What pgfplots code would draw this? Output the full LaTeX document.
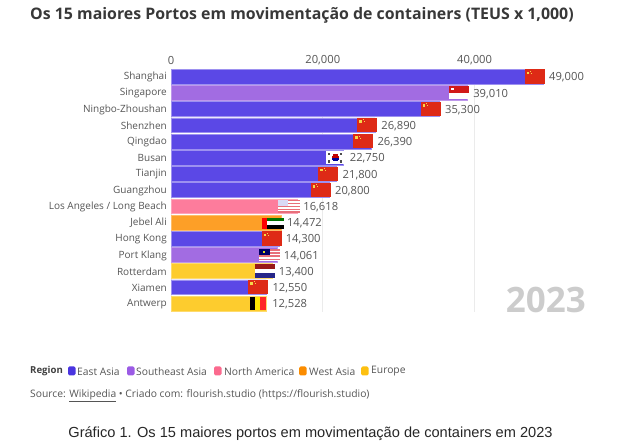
\documentclass[border=0pt]{standalone}
\usepackage{pgfplots}
\pgfplotsset{compat=1.18}
\usepackage{fontspec}
\setmainfont{Open Sans}
\newfontfamily\capfont{Liberation Sans}
\definecolor{eastc}{HTML}{5B48E6}
\definecolor{seac}{HTML}{A26CE2}
\definecolor{nac}{HTML}{FD7C9C}
\definecolor{wac}{HTML}{FD9F27}
\definecolor{euc}{HTML}{FDCC2E}
\definecolor{txt}{HTML}{555555}
\definecolor{cnred}{HTML}{DE2A16}
\definecolor{cnyel}{HTML}{F5D84A}
\definecolor{usred}{HTML}{E8707A}
% flag piece: value in thousands, x0, x1 (px from the value's end), row, y0, y1 (px from the row's centre), colour
\newcommand{\fp}[7]{%
  \pgfmathsetmacro{\xa}{#1+(#2)*0.13175}%
  \pgfmathsetmacro{\xb}{#1+(#3)*0.13175}%
  \pgfmathsetmacro{\ya}{#4+(#5)/16.2}%
  \pgfmathsetmacro{\yb}{#4+(#6)/16.2}%
  \addplot[fill=#7,draw=none,forget plot] coordinates {(\xa e3,\ya)(\xb e3,\ya)(\xb e3,\yb)(\xa e3,\yb)} -- cycle;%
}
\newcommand{\cn}[2]{%
  \fp{#1}{-18}{2}{#2}{-7.2}{7}{cnred}%
  \fp{#1}{-16}{-13.5}{#2}{-5}{-2.5}{cnyel}%
  \fp{#1}{-12.5}{-11.5}{#2}{-5.8}{-4.8}{cnyel}%
  \fp{#1}{-11.5}{-10.5}{#2}{-3.8}{-2.8}{cnyel}%
}
\begin{document}
\begin{tikzpicture}
\path (0pt,0pt) rectangle (634pt,446pt);
% title
\node[anchor=west,inner sep=0pt,font=\bfseries\fontsize{15.9}{18}\selectfont,text=black!78] at (30pt,431pt) {Os 15 maiores Portos em movimentação de containers (TEUS x 1,000)};
\begin{axis}[
  at={(171pt,377.4pt)},anchor=north west,
  scale only axis,width=455.4pt,height=243pt,
  xmin=0,xmax=60000,ymin=-0.5,ymax=14.5,y dir=reverse,
  axis line style={draw=none},
  xtick={0,20000,40000},
  xticklabel pos=top,
  xticklabel style={/pgf/number format/1000 sep={,},/pgf/number format/assume math mode=true,font=\fontsize{11.2}{13}\selectfont,text=txt,yshift=0pt},
  scaled x ticks=false,
  xmajorgrids,
  grid style={draw=black!8,line width=0.9pt},
  ytick={0,...,14},
  yticklabels={Shanghai,Singapore,Ningbo-Zhoushan,Shenzhen,Qingdao,Busan,Tianjin,Guangzhou,Los Angeles / Long Beach,Jebel Ali,Hong Kong,Port Klang,Rotterdam,Xiamen,Antwerp},
  yticklabel style={font=\fontsize{10}{12}\selectfont,text=txt,inner sep=0pt,xshift=-4pt,yshift=-0.6pt},
  major tick length=0pt,
  tick style={draw=none},
  clip=false,
  every node near coord/.append style={anchor=west,inner sep=0pt,xshift=6pt,yshift=-0.8pt,font=\fontsize{11.2}{13}\selectfont,text=txt,/pgf/number format/1000 sep={,},/pgf/number format/assume math mode=true,/pgf/number format/precision=0},
]
\pgfplotsset{bars/.style={xbar,bar width=14.7pt,bar shift=0pt,nodes near coords,point meta=x,line width=0.5pt}}
\addplot[bars,fill=eastc,draw=eastc!60!white] coordinates {(49000,0)(35300,2)(26890,3)(26390,4)(22750,5)(21800,6)(20800,7)(14300,10)(12550,13)};
\addplot[bars,fill=seac,draw=seac!70!white] coordinates {(39010,1)(14061,11)};
\addplot[bars,fill=nac,draw=nac!70!white] coordinates {(16618,8)};
\addplot[bars,fill=wac,draw=wac!70!white] coordinates {(14472,9)};
\addplot[bars,fill=euc,draw=euc!70!white] coordinates {(13400,12)(12528,14)};
% flags
\cn{49.000}{0}\cn{35.300}{2}\cn{26.890}{3}\cn{26.390}{4}\cn{21.800}{6}\cn{20.800}{7}\cn{14.300}{10}\cn{12.550}{13}
% Singapore
\fp{39.010}{-18}{2}{1}{-6.9}{-0.2}{red!80!black!90!white}
\fp{39.010}{-18}{2}{1}{-0.2}{6.4}{white}
\fp{39.010}{-16}{-13.5}{1}{-5}{-2.5}{white}
% Korea
\fp{22.750}{-18}{1}{5}{-6.3}{6.3}{white}
\fp{22.750}{-12}{-5}{5}{-2}{0}{red!75!black}
\fp{22.750}{-11}{-6}{5}{-3.4}{-2}{red!75!black}
\fp{22.750}{-12}{-5}{5}{0}{2}{blue!60!black}
\fp{22.750}{-11}{-6}{5}{2}{3.4}{blue!60!black}
\fp{22.750}{-16}{-13.5}{5}{-5}{-2.5}{black!70}
\fp{22.750}{-4}{-1.5}{5}{-5}{-2.5}{black!70}
\fp{22.750}{-16}{-13.5}{5}{2.5}{5}{black!70}
\fp{22.750}{-4}{-1.5}{5}{2.5}{5}{black!70}
% USA
\fp{16.618}{-19}{3}{8}{-6.5}{6.5}{white}
\fp{16.618}{-19}{3}{8}{-6.5}{-5}{usred}
\fp{16.618}{-19}{3}{8}{-3.5}{-2}{usred}
\fp{16.618}{-19}{3}{8}{-0.5}{1}{usred}
\fp{16.618}{-19}{3}{8}{2.5}{4}{usred}
\fp{16.618}{-19}{3}{8}{5.2}{6.5}{usred}
\fp{16.618}{-19}{-9}{8}{-6.5}{0}{black!25!blue!15!white}
% UAE
\fp{14.472}{-19}{3}{9}{-4.7}{-1}{green!45!black}
\fp{14.472}{-19}{3}{9}{-1}{3}{white}
\fp{14.472}{-19}{3}{9}{3}{6.8}{black}
\fp{14.472}{-19}{-13.5}{9}{-4.7}{6.8}{red}
% Malaysia
\fp{14.061}{-19}{2}{11}{-5.7}{5.7}{white}
\fp{14.061}{-19}{2}{11}{-5.7}{-4.3}{usred}
\fp{14.061}{-19}{2}{11}{-2.6}{-1.2}{usred}
\fp{14.061}{-19}{2}{11}{0.5}{1.9}{usred}
\fp{14.061}{-19}{2}{11}{3.7}{5.1}{usred}
\fp{14.061}{-19}{-8}{11}{-5.7}{0.2}{blue!40!black}
\fp{14.061}{-15}{-12.5}{11}{-4}{-1.5}{yellow!85!black}
% Netherlands
\fp{13.400}{-18}{2}{12}{-6.8}{-2.3}{red!55!black!90!white}
\fp{13.400}{-18}{2}{12}{-2.3}{2.3}{white}
\fp{13.400}{-18}{2}{12}{2.3}{6.8}{blue!45!black!85!white}
% Belgium
\fp{12.528}{-16}{-11}{14}{-6.9}{6.9}{black}
\fp{12.528}{-11}{-6}{14}{-6.9}{6.9}{yellow!90!orange}
\fp{12.528}{-6}{-0.5}{14}{-6.9}{6.9}{red!85!white}
\end{axis}
\node[anchor=east,inner sep=0pt,font=\bfseries\fontsize{35}{38}\selectfont,text=black!20] at (586pt,146.5pt) {2023};
% legend
\node[anchor=west,inner sep=0pt,font=\bfseries\fontsize{9.6}{11}\selectfont,text=black!75] at (30pt,74.5pt) {Region};
\foreach \xs/\xt/\colr/\lab in {68/77/4A35E0/East Asia,127/136/9B5BE5/Southeast Asia,214/224/FB6A8E/North America,299/309/FB8C00/West Asia,361/371/FDC010/Europe}{
  \definecolor{tmp}{HTML}{\colr}
  \fill[tmp,rounded corners=1.5pt] (\xs pt,70.5pt) rectangle ++(7.5pt,9pt);
  \node[anchor=west,inner sep=0pt,font=\fontsize{10.3}{12}\selectfont,text=txt] at (\xt pt,74.5pt) {\lab};
}
\node[anchor=west,inner sep=0pt,font=\fontsize{10.3}{12}\selectfont,text=txt] at (30pt,50.5pt) {Source: \underline{Wikipedia} • Criado com: flourish.studio (https://flourish.studio)};
\node[anchor=center,inner sep=0pt,font=\capfont\fontsize{14.6}{17}\selectfont,text=black!85] at (310.5pt,12pt) {Gráfico 1. Os 15 maiores portos em movimentação de containers em 2023};
\end{tikzpicture}
\end{document}
